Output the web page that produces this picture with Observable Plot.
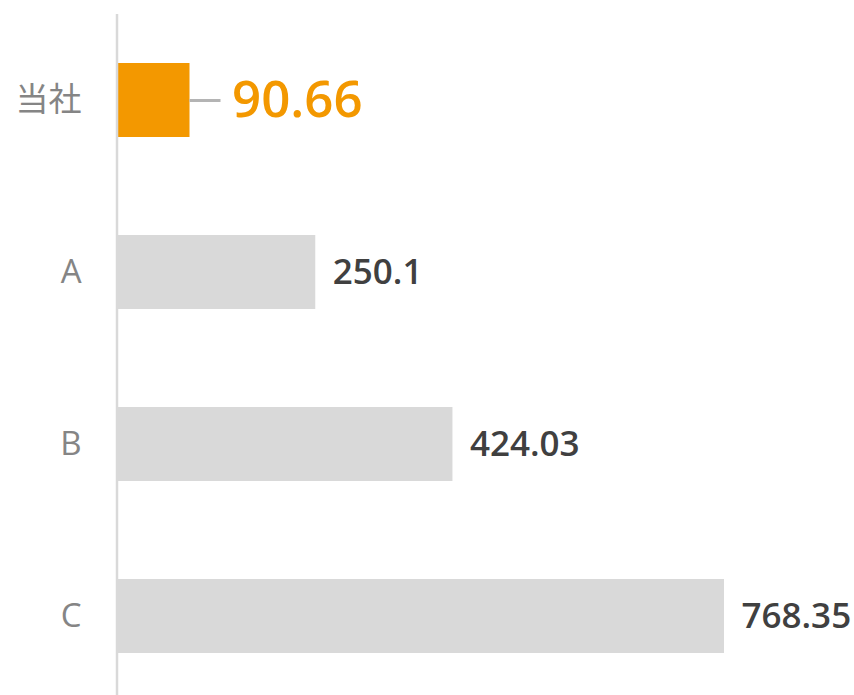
<!DOCTYPE html>
<html>
<head>
<meta charset="utf-8">
<script src="https://cdn.jsdelivr.net/npm/d3@7"></script>
<script src="https://cdn.jsdelivr.net/npm/@observablehq/plot@0.6"></script>
<style>
  html, body { margin: 0; padding: 0; background: #fff; }
  #chart svg { display: block; }
</style>
</head>
<body>
<div id="chart"></div>
<script>
const categories = ["当社", "A", "B", "C"];
const values = [90.66, 250.1, 424.03, 768.35];
const labels = ["90.66", "250.1", "424.03", "768.35"];
const highlight = "当社";

const data = categories.map((name, i) => ({name, value: values[i], label: labels[i]}));
const own = data.filter(d => d.name === highlight);
const others = data.filter(d => d.name !== highlight);

const ORANGE = "#F39800";
const GRAY = "#D9D9D9";
const font = "'Open Sans', 'Noto Sans CJK JP', sans-serif";

const chart = Plot.plot({
  width: 854,
  height: 695,
  marginTop: 14,
  marginBottom: 0,
  marginLeft: 117,
  marginRight: 0,
  style: {fontFamily: font, background: "#fff"},
  x: {domain: [0, 1000], range: [118, 906.7], axis: null},
  y: {domain: categories, range: [14, 702], paddingInner: 0.57, paddingOuter: 0.285, axis: null},
  marks: [
    Plot.axisY({anchor: "left", label: null, tickSize: 0, tickPadding: 36, fontSize: 33, fill: "#858585", fontFamily: font, fontWeight: 400}),
    Plot.barX(data, {x: "value", y: "name", fill: d => d.name === highlight ? ORANGE : GRAY}),
    Plot.ruleX([0], {dx: -1.5, stroke: "#D9D9D9", strokeWidth: 2.5}),
    Plot.ruleY(own, {y: "name", x1: "value", x2: "value", insetRight: -31, stroke: "#B4B4B4", strokeWidth: 3}),
    Plot.text(own, {x: "value", y: "name", text: "label", textAnchor: "start", dx: 42, fontSize: 51, fontWeight: 600, fill: ORANGE}),
    Plot.text(others, {x: "value", y: "name", text: "label", textAnchor: "start", dx: 17, fontSize: 35, fontWeight: 600, fill: "#404040"})
  ]
});
document.getElementById("chart").appendChild(chart);
</script>
</body>
</html>
